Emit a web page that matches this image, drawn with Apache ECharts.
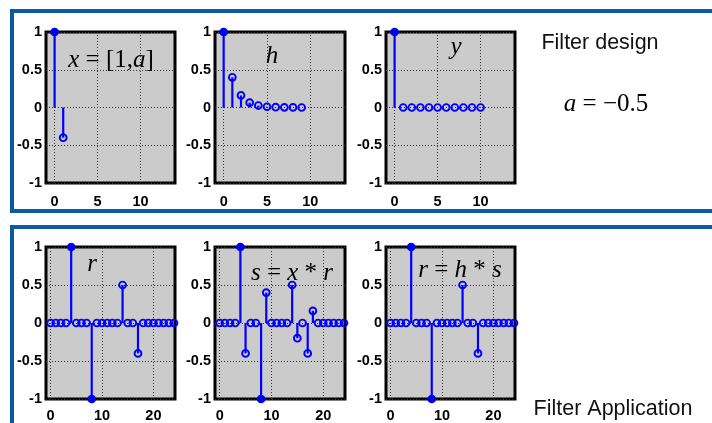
<!DOCTYPE html>
<html><head><meta charset="utf-8">
<script src="https://cdn.jsdelivr.net/npm/echarts@6/dist/echarts.min.js"></script>
<style>html,body{margin:0;padding:0;background:#fff}#c{width:712px;height:423px}</style>
</head><body><div id="c"></div>
<script>
// ---- data ----
const xSeq = [1, -0.4];                                   // x = [1, a]
const hSeq = [1, 0.4, 0.16, 0.064, 0.026, 0.01, 0.004, 0.002, 0.001, 0];
const ySeq = [1, 0, 0, 0, 0, 0, 0, 0, 0, 0, 0];
const rSeq = [0,0,0,0,1,0,0,0,-1,0,0,0,0,0,0.5,0,0,-0.4,0,0,0,0,0,0,0];
const sSeq = [0,0,0,0,1,-0.4,0,0,-1,0.4,0,0,0,0,0.5,-0.2,0,-0.4,0.16,0,0,0,0,0,0];
const rOutSeq = [0,0,0,0,1,0,0,0,-1,0,0,0,0,0,0.5,0,0,-0.4,0,0,0,0,0,0,0];
const topXTicks = [0, 5, 10];
const botXTicks = [0, 10, 20];
const yTicks = [-1, -0.5, 0, 0.5, 1];

const panels = [
  {seq: xSeq, ticks: topXTicks, min: -1, max: 14, left: 46, top: 32, width: 129, height: 151, m: 11},
  {seq: hSeq, ticks: topXTicks, min: -1, max: 14, left: 215, top: 32, width: 130, height: 151, m: 11},
  {seq: ySeq, ticks: topXTicks, min: -1, max: 14, left: 386, top: 32, width: 129, height: 151, m: 11},
  {seq: rSeq, ticks: botXTicks, min: -0.9, max: 24.2, left: 46, top: 247, width: 129, height: 156, m: 9},
  {seq: sSeq, ticks: botXTicks, min: -0.9, max: 24.2, left: 215, top: 247, width: 130, height: 156, m: 9},
  {seq: rOutSeq, ticks: botXTicks, min: -0.9, max: 24.2, left: 386, top: 247, width: 129, height: 156, m: 9}
];

const BLUE = '#0000ff';
const FRAME = '#0b5a9c';
const labelFont = {color: '#000', fontFamily: 'Liberation Sans', fontWeight: 'bold', fontSize: 14.5};
const gridDot = {color: '#333', width: 1, type: [1, 2]};

function stem(params, api) {
  const n = api.value(0), v = api.value(1);
  const p0 = api.coord([n, 0]), p1 = api.coord([n, v]);
  const filled = Math.abs(v) >= 1;
  return {type: 'group', children: [
    {type: 'line', shape: {x1: p0[0], y1: p0[1], x2: p1[0], y2: p1[1]}, style: {stroke: BLUE, lineWidth: 2.2}},
    {type: 'circle', shape: {cx: p1[0], cy: p1[1], r: 3.4},
     style: {fill: filled ? '#0000dd' : 'none', stroke: BLUE, lineWidth: 1.9}}
  ]};
}

const grid = [], xAxis = [], yAxis = [], series = [];
panels.forEach((p, i) => {
  grid.push({left: p.left, top: p.top, width: p.width, height: p.height, show: true,
    backgroundColor: '#cbcbcb', borderColor: '#000', borderWidth: 3});
  xAxis.push({type: 'value', gridIndex: i, min: p.min, max: p.max,
    axisLine: {show: false}, axisTick: {show: false}, splitLine: {show: false},
    axisLabel: Object.assign({customValues: p.ticks, margin: p.m}, labelFont)});
  yAxis.push({type: 'value', gridIndex: i, min: -1, max: 1, interval: 0.5,
    axisLine: {show: false}, axisTick: {show: false},
    splitLine: {show: true, lineStyle: gridDot},
    axisLabel: Object.assign({margin: 4}, labelFont)});
  series.push({type: 'custom', xAxisIndex: i, yAxisIndex: i, renderItem: stem,
    data: p.seq.map((v, n) => [n, v]), z: 3,
    markLine: {silent: true, z: 1, symbol: 'none', label: {show: false},
      lineStyle: gridDot, animation: false,
      data: p.ticks.map(t => ({xAxis: t}))}
  });
});

const serif = 'Liberation Serif';
function txt(x, y, rich, text, size) {
  return {type: 'text', x: x, y: y, z: 10,
    style: {text: text, rich: rich, align: 'center', verticalAlign: 'middle',
      fontFamily: serif, fontSize: size || 25, fill: '#000'}};
}
const richM = {
  i: {fontFamily: serif, fontStyle: 'italic', fontSize: 25, fill: '#000'},
  u: {fontFamily: serif, fontSize: 25, fill: '#000'}
};

const graphic = [
  {type: 'rect', shape: {x: 12, y: 11, width: 720, height: 200}, style: {fill: 'none', stroke: FRAME, lineWidth: 4}, z: 0},
  {type: 'rect', shape: {x: 12, y: 227, width: 720, height: 260}, style: {fill: 'none', stroke: FRAME, lineWidth: 4}, z: 0},
  txt(111, 60, richM, '{i|x}{u| = [1,}{i|a}{u|]}'),
  txt(272, 56, richM, '{i|h}'),
  txt(456, 47, richM, '{i|y}'),
  txt(606, 104, richM, '{i|a}{u| = \u22120.5}'),
  txt(92, 264, richM, '{i|r}'),
  txt(292, 273, richM, '{i|s}{u| = }{i|x}{u| * }{i|r}'),
  txt(460, 270, richM, '{i|r}{u| = }{i|h}{u| * }{i|s}'),
  {type: 'text', x: 600, y: 43, z: 10, style: {text: 'Filter design', align: 'center', verticalAlign: 'middle',
    fontFamily: 'Liberation Sans', fontSize: 21.5, fill: '#111'}},
  {type: 'text', x: 613, y: 409, z: 10, style: {text: 'Filter Application', align: 'center', verticalAlign: 'middle',
    fontFamily: 'Liberation Sans', fontSize: 21.5, fill: '#111'}}
];

const chart = echarts.init(document.getElementById('c'), null, {renderer: 'canvas'});
chart.setOption({animation: false, grid, xAxis, yAxis, series, graphic});
</script></body></html>
